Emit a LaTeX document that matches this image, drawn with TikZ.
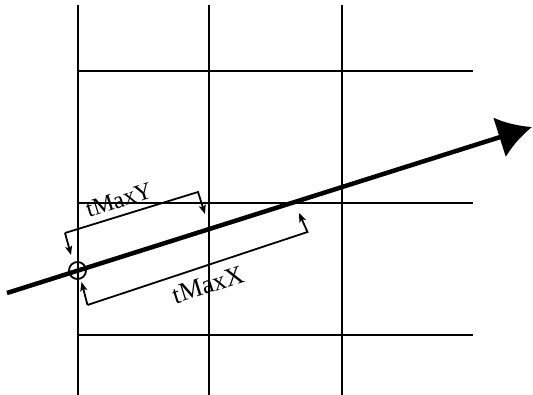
\documentclass[tikz,border=0pt]{standalone}
\usepackage{fontspec}
\setmainfont{Liberation Serif}
\usetikzlibrary{arrows.meta}
\begin{document}
\begin{tikzpicture}[x=1pt,y=-1pt,
  gridline/.style={line width=2pt,black},
  ray/.style={line width=4.5pt,-{Latex[length=34pt,width=42pt]}},
  bracket/.style={line width=1.8pt,line join=miter,-{Stealth[length=9pt,width=7pt,inset=2pt]}},
  lbl/.style={rotate=17.5,inner sep=0pt}]
\useasboundingbox (0,0) rectangle (533,395);
% grid
\foreach \x in {77.5,209,341.5}{\draw[gridline] (\x,5) -- (\x,395);}
\foreach \y in {71.5,203,335}{\draw[gridline] (77,\y) -- (473,\y);}
% ray
\coordinate (rs) at (7,293);
\coordinate (rt) at (532,127);
\draw[ray] (rs) -- (rt);
\node[circle,draw,line width=1.8pt,minimum size=17pt,inner sep=0pt] (o) at (77.5,270.5) {};
% tMaxY bracket
\coordinate (ya) at (65,233);
\coordinate (yb) at (198,192);
\coordinate (yt1) at (71,255);
\coordinate (yt2) at (205,214);
\draw[bracket] (ya) -- (yt1);
\draw[bracket] (ya) -- (yb) -- (yt2);
% tMaxX bracket
\coordinate (xa) at (87.5,305);
\coordinate (xb) at (307.5,232);
\coordinate (xt1) at (81.5,282);
\coordinate (xt2) at (299,213);
\draw[bracket] (xa) -- (xt1);
\draw[bracket] (xa) -- (xb) -- (xt2);
% labels
\node[lbl,font=\fontsize{24}{24}\selectfont] (ly) at (119,200) {tMaxY};
\node[lbl,font=\fontsize{26}{26}\selectfont] (lx) at (208,285) {tMaxX};
\end{tikzpicture}
\end{document}
